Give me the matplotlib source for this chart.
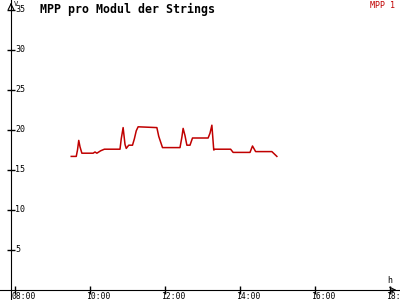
import numpy as np
import matplotlib
matplotlib.use("Agg")
import matplotlib.pyplot as plt

# Messwerte (Uhrzeit, Spannung in V)
zeiten = ["09:30", "09:38", "09:40", "09:42", "09:44", "09:47", "10:05", "10:08",
          "10:11", "10:17", "10:23", "10:48", "10:50", "10:53", "10:56", "10:58",
          "11:02", "11:08", "11:11", "11:14", "11:17", "11:47", "11:50", "11:56",
          "12:24", "12:27", "12:29", "12:32", "12:35", "12:40", "12:44", "13:09",
          "13:12", "13:15", "13:18", "13:20", "13:45", "13:49", "14:16", "14:20",
          "14:25", "14:51", "14:55", "14:59"]
werte = [16.7, 16.7, 17.5, 18.7, 17.9, 17.1, 17.1, 17.25,
         17.1, 17.4, 17.6, 17.6, 18.9, 20.3, 18.2, 17.7,
         18.1, 18.1, 18.9, 19.9, 20.4, 20.3, 19.2, 17.8,
         17.8, 19.1, 20.2, 19.3, 18.1, 18.1, 19.0, 19.0,
         19.6, 20.6, 17.5, 17.6, 17.6, 17.2, 17.2, 18.0,
         17.3, 17.3, 17.0, 16.7]

x_ticks = [8, 10, 12, 14, 16, 18]
x_labels = ["08:00", "10:00", "12:00", "14:00", "16:00", "18:00"]
y_ticks = [5, 10, 15, 20, 25, 30, 35]
y_labels = ["5", "10", "15", "20", "25", "30", "35"]

titel = "MPP pro Modul der Strings"
legende = "MPP 1"
rot = "#c00000"


def zu_stunden(t):
    h, m = t.split(":")
    return int(h) + int(m) / 60


stunden = np.array([zu_stunden(t) for t in zeiten])

plt.rcParams["font.family"] = ["DejaVu Sans Mono"]

fig = plt.figure(figsize=(4, 3), dpi=100)
ax = fig.add_axes([0, 0, 1, 1])
x_min, x_max = 7.6, 7.6 + 400 / 37.5
y_min, y_max = -1.25, 36.25
ax.set_xlim(x_min, x_max)
ax.set_ylim(y_min, y_max)
y_achse = 7.6 + 11 / 37.5

ax.plot(stunden, werte, color=rot, lw=1.1)

# Achsen
for s in ["top", "right"]:
    ax.spines[s].set_visible(False)
ax.spines["left"].set_position(("data", y_achse))
ax.spines["bottom"].set_position(("data", 0))
ax.spines["left"].set_bounds(y_min, y_max)
ax.spines["bottom"].set_bounds(x_min, x_max)
ax.set_xticks(x_ticks)
ax.set_yticks(y_ticks)
ax.tick_params(direction="inout", length=6, width=1, labelleft=False, labelbottom=False)

for x, lab in zip(x_ticks, x_labels):
    ax.annotate(lab, (x, 0), xytext=(-2.5, -1.5), textcoords="offset points",
                ha="left", va="top", fontsize=5.8, annotation_clip=False)
for y, lab in zip(y_ticks, y_labels):
    ax.annotate(lab, (y_achse, y), xytext=(3, 0), textcoords="offset points",
                ha="left", va="center", fontsize=6)

# Pfeile
ax.annotate("", xy=(y_achse, y_max), xytext=(y_achse, y_max - 1),
            arrowprops=dict(arrowstyle="->", lw=0.8, color="black"))
ax.annotate("", xy=(x_max - 0.02, 0), xytext=(x_max - 0.3, 0),
            arrowprops=dict(arrowstyle="->", lw=0.8, color="black"))
ax.text(y_achse + 0.07, y_max - 0.1, "V", fontsize=5, ha="left", va="top")
ax.text(x_max - 0.35, 0.6, "h", fontsize=6, ha="left", va="bottom")

fig.text(0.1, 0.99, titel, fontsize=8.4, fontweight="bold", ha="left", va="top")
fig.text(0.988, 0.995, legende, fontsize=6, color=rot, ha="right", va="top")

fig.savefig("out.png", dpi=100)
